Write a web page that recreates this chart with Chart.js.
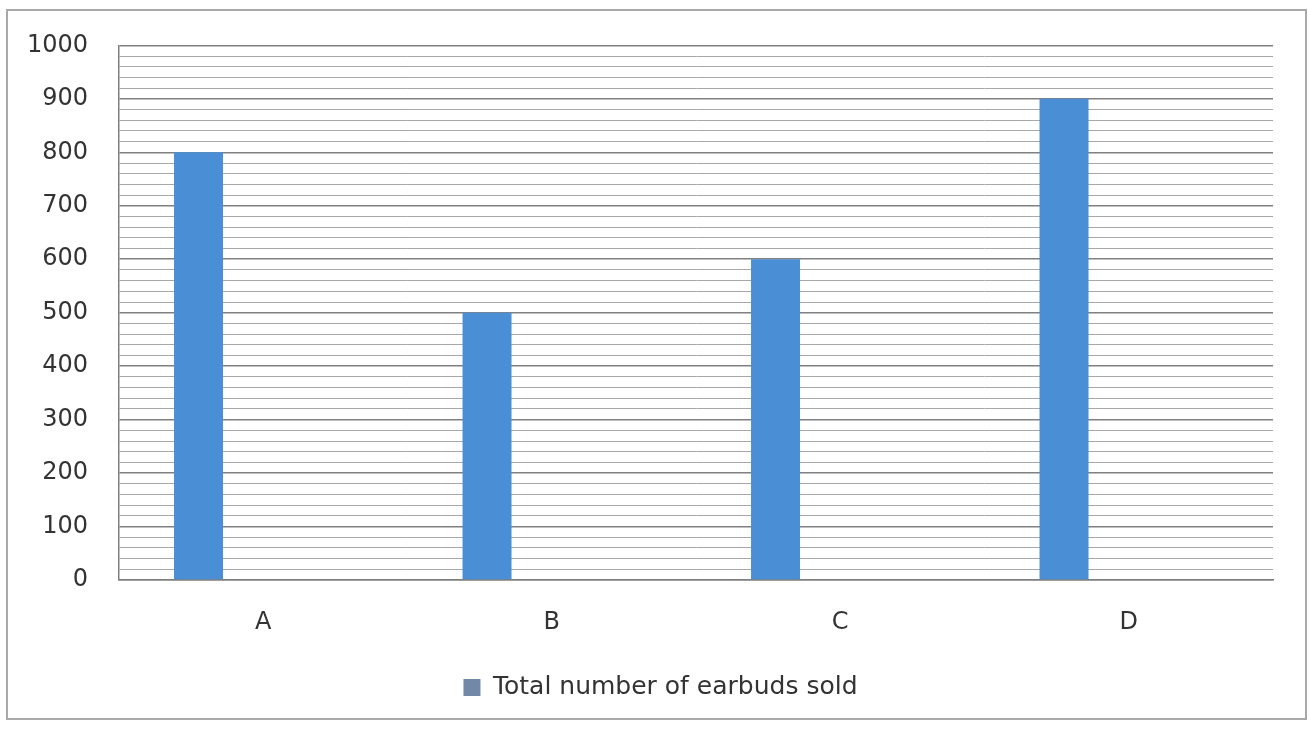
<!DOCTYPE html>
<html lang="en">
<head>
  <meta charset="UTF-8">
  <title>Total number of earbuds sold</title>
  <script src="https://cdn.jsdelivr.net/npm/chart.js"></script>
  <style>
    html, body {
      margin: 0;
      padding: 0;
      background: #ffffff;
    }
    #wrap {
      width: 1309px;
      height: 729px;
    }
  </style>
</head>
<body>
  <div id="wrap">
    <canvas id="salesChart" width="1309" height="729"></canvas>
  </div>

  <script>
    // data
    const categories = ['A', 'B', 'C', 'D'];
    const earbudsSold = [800, 500, 600, 900];
    // excel had two more (empty) series next to the blue one
    const emptySeries1 = [null, null, null, null];
    const emptySeries2 = [null, null, null, null];
    const yMin = 0;
    const yMax = 1000;
    const minorStep = 20;
    const majorStep = 100;

    const barBlue = '#4A8ED6';

    // outer frame like the excel chart area
    const framePlugin = {
      id: 'frame',
      afterLayout(chart) {
        // excel's legend sits a bit right of the canvas centre
        const lg = chart.legend;
        if (lg) {
          lg.left += 24;
          lg.right += 24;
        }
      },
      afterDraw(chart) {
        const ctx = chart.ctx;
        ctx.save();
        ctx.strokeStyle = '#a9a9a9';
        ctx.lineWidth = 2;
        ctx.strokeRect(7, 10, 1299, 709);
        ctx.restore();
      }
    };

    const ctx = document.getElementById('salesChart').getContext('2d');
    new Chart(ctx, {
      type: 'bar',
      data: {
        labels: categories,
        datasets: [
          {
            label: 'Total number of earbuds sold',
            data: earbudsSold,
            backgroundColor: barBlue,
            borderWidth: 0,
            categoryPercentage: 0.673,
            barPercentage: 0.757
          },
          {
            label: 'empty1',
            data: emptySeries1,
            backgroundColor: '#ed7d31',
            categoryPercentage: 0.673,
            barPercentage: 0.757
          },
          {
            label: 'empty2',
            data: emptySeries2,
            backgroundColor: '#a5a5a5',
            categoryPercentage: 0.673,
            barPercentage: 0.757
          }
        ]
      },
      options: {
        responsive: false,
        animation: false,
        layout: {
          padding: { left: 0, top: 39, right: 36, bottom: 19 }
        },
        scales: {
          x: {
            grid: { display: false, drawTicks: false },
            border: { display: true, color: '#7f7f7f', width: 1.5 },
            ticks: {
              padding: 28,
              color: '#333333',
              font: { family: 'DejaVu Sans', size: 24 }
            },
            afterFit(scale) {
              scale.height = 85;
            }
          },
          y: {
            min: yMin,
            max: yMax,
            grid: {
              drawTicks: false,
              color: c => (c.tick && c.tick.value % majorStep === 0) ? '#808080' : '#a8a8a8',
              lineWidth: c => (c.tick && c.tick.value % majorStep === 0) ? 1.6 : 1
            },
            border: { display: true, color: '#7f7f7f', width: 1.5 },
            ticks: {
              stepSize: minorStep,
              autoSkip: false,
              padding: 31,
              color: '#333333',
              font: { family: 'DejaVu Sans', size: 24 },
              callback: v => (v % majorStep === 0 ? v : '')
            },
            afterFit(scale) {
              scale.width = 119;
            }
          }
        },
        plugins: {
          legend: {
            position: 'bottom',
            labels: {
              color: '#333333',
              font: { family: 'DejaVu Sans', size: 25 },
              boxWidth: 17,
              boxHeight: 17,
              padding: 10,
              filter: item => item.datasetIndex === 0,
              generateLabels(chart) {
                const items = Chart.defaults.plugins.legend.labels.generateLabels(chart);
                items.forEach(it => {
                  if (it.datasetIndex === 0) {
                    it.fillStyle = '#7189a6';
                    it.lineWidth = 0;
                  }
                });
                return items;
              }
            }
          },
          tooltip: { enabled: false }
        }
      },
      plugins: [framePlugin]
    });
  </script>
</body>
</html>
